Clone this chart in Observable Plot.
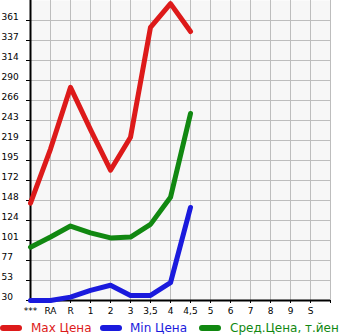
<!DOCTYPE html>
<html><head><meta charset="utf-8">
<script src="https://cdn.jsdelivr.net/npm/d3@7"></script>
<script src="https://cdn.jsdelivr.net/npm/@observablehq/plot@0.6"></script>
<style>
body{margin:0;background:#fff;font-family:"DejaVu Sans",sans-serif}
#wrap{position:relative;width:345px;height:335px;overflow:hidden}
#chart svg{display:block}
.sw{position:absolute;top:325px;width:22px;height:6px;border-radius:3px}
.lt{position:absolute;top:320px;font-size:12px;line-height:16px;white-space:nowrap}
</style></head><body>
<div id="wrap"><div id="chart"></div>
<div class="sw" style="left:0px;background:#dd1a1a"></div><div class="lt" style="left:31px;color:#dd1a1a">Max Цена</div>
<div class="sw" style="left:100px;background:#1a1add"></div><div class="lt" style="left:130px;color:#1a1add">Min Цена</div>
<div class="sw" style="left:199px;background:#118811"></div><div class="lt" style="left:230px;color:#118811">Сред.Цена, т.йен</div>
</div>
<script>
const categories = ["***","RA","R","1","2","3","3,5","4","4,5","5","6","7","8","9","S"];
const maxPrice = [145, 209, 282, 232, 184, 223, 353, 381, 348];
const minPrice = [30, 30, 34, 42, 48, 36, 36, 51, 140];
const avgPrice = [93, 105, 118, 110, 104, 105, 120, 152, 251];
const yTickLabels = ["30","53","77","101","124","148","172","195","219","243","266","290","314","337","361"];

const lo = +yTickLabels[0], hi = +yTickLabels[yTickLabels.length - 1];
const step = (hi - lo) / (yTickLabels.length - 1);
const yTicks = yTickLabels.map((_, i) => lo + i * step);
const xIdx = categories.map((_, i) => i);
const xGrid = [...xIdx, categories.length];

const toRows = (arr) => arr.map((v, i) => ({i, v}));

const chart = Plot.plot({
  width: 345, height: 318,
  marginLeft: 30, marginRight: 15, marginTop: 0, marginBottom: 18,
  style: {fontFamily: "DejaVu Sans, sans-serif", background: "#fff", color: "#000"},
  x: {type: "linear", domain: [0, categories.length], axis: null},
  y: {type: "linear", domain: [lo, hi + step], axis: null},
  marks: [
    Plot.frame({fill: "#f7f7f7", stroke: null}),
    Plot.ruleX(xGrid, {stroke: "#bdbdbd", strokeWidth: 1}),
    Plot.ruleY(yTicks.slice(1), {stroke: "#bdbdbd", strokeWidth: 1}),
    Plot.axisX({ticks: xGrid, tickFormat: i => categories[i] ?? "", tickSize: 3, tickPadding: 4, fontSize: 9, label: null}),
    Plot.axisY({ticks: yTicks, tickSize: 4, text: null, label: null}),
    Plot.text(yTicks, {y: d => d, text: (d, i) => yTickLabels[i], frameAnchor: "left", textAnchor: "start", dx: -29, dy: -3, fontSize: 9, fill: "#000"}),
    Plot.ruleX([0], {stroke: "#000", strokeWidth: 2}),
    Plot.ruleY([lo], {stroke: "#000", strokeWidth: 2}),
    Plot.line(toRows(maxPrice), {x: "i", y: "v", stroke: "#dd1a1a", strokeWidth: 5, strokeLinecap: "round", strokeLinejoin: "round"}),
    Plot.line(toRows(avgPrice), {x: "i", y: "v", stroke: "#118811", strokeWidth: 5, strokeLinecap: "round", strokeLinejoin: "round"}),
    Plot.line(toRows(minPrice), {x: "i", y: "v", stroke: "#1a1add", strokeWidth: 5, strokeLinecap: "round", strokeLinejoin: "round"})
  ]
});
document.getElementById("chart").appendChild(chart);
</script>
</body></html>
